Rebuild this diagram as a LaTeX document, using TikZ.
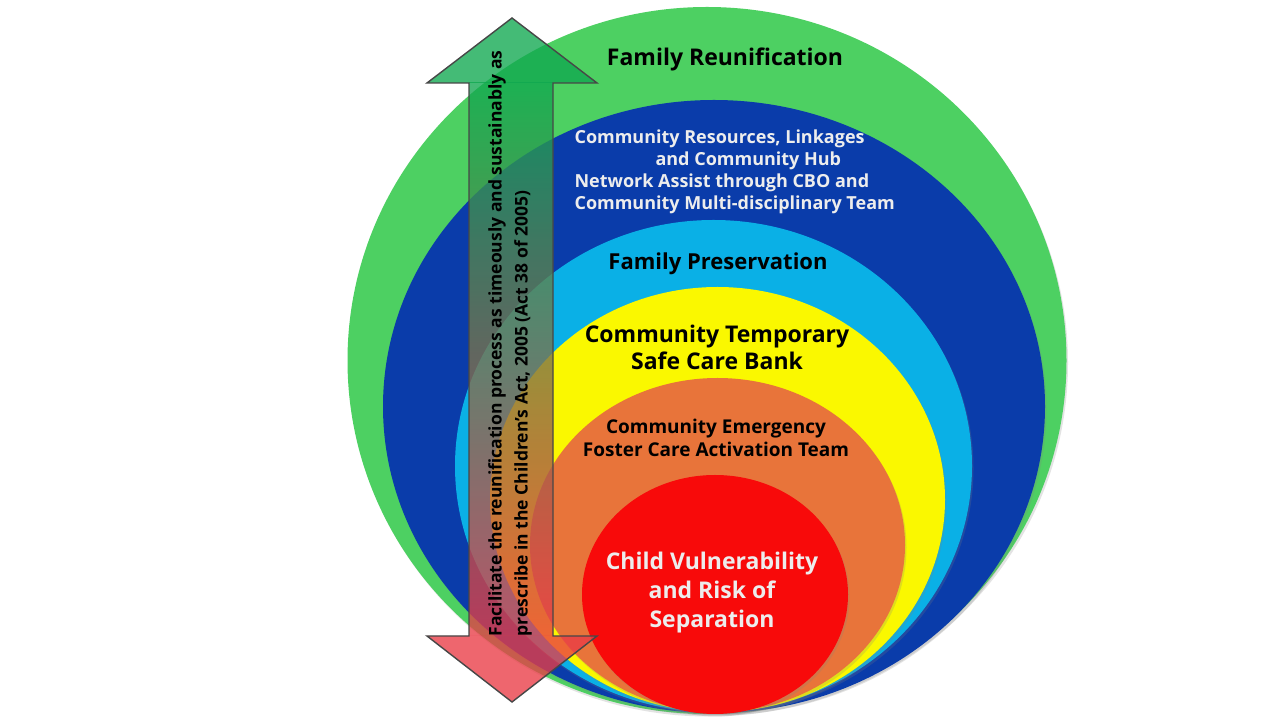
\documentclass[tikz,border=0pt]{standalone}
\usepackage{fontspec}
\setmainfont{Open Sans}
\usetikzlibrary{shapes.geometric}
\usetikzlibrary{shadows}
\definecolor{ringg}{RGB}{77,208,98}
\definecolor{ringb}{RGB}{10,60,170}
\definecolor{ringc}{RGB}{10,176,230}
\definecolor{ringy}{RGB}{250,248,0}
\definecolor{ringo}{RGB}{232,116,58}
\definecolor{ringr}{RGB}{248,10,10}
\definecolor{arrg}{RGB}{16,168,80}
\definecolor{arrr}{RGB}{234,60,70}
\tikzset{
    myring/.style = {ellipse, inner sep=0pt, draw=none, drop shadow={shadow xshift=1.5pt, shadow yshift=-2.5pt, opacity=0.22}},
    mytext/.style = {align=center, text=black},
    mytextw/.style = {align=center, text=white!93!black},
    myarrow/.style = {fill opacity=0.78, draw=none},
    myarrowline/.style = {draw=black!72, line width=1.4pt},
    big/.style = {font=\fontsize{23}{27}\selectfont\bfseries},
    small/.style = {font=\fontsize{18}{22}\selectfont\bfseries}
}
\begin{document}
\begin{tikzpicture}[x=1pt, y=1pt]
  \useasboundingbox[fill=white] (0,0) rectangle (1280,720);
  % rings, outer to inner
  \node[myring, fill=ringg, minimum width=719pt, minimum height=707pt] (reunif) at (707,359.5) {};
  \node[myring, fill=ringb, minimum width=662pt, minimum height=613pt] (resources) at (714,313.5) {};
  \node[myring, fill=ringc, minimum width=517pt, minimum height=492pt] (preserv) at (713.5,254) {};
  \node[myring, fill=ringy, minimum width=455pt, minimum height=425pt] (safecare) at (717.5,220.5) {};
  \node[myring, fill=ringo, minimum width=375pt, minimum height=334pt] (emergency) at (717.5,175) {};
  \node[myring, fill=ringr, minimum width=266pt, minimum height=239pt] (child) at (715,125.5) {};
  % ring labels
  \node[mytext, big] (treunif) at (725,661) {Family Reunification};
  \node[mytextw, small, align=left, anchor=west] (tresources) at (571,548)
    {Community Resources, Linkages\\\hspace*{81pt}and Community Hub\\Network Assist through CBO and\\Community Multi-disciplinary Team};
  \node[mytext, font=\fontsize{22}{26}\selectfont\bfseries] (tpreserv) at (718,456) {Family Preservation};
  \node[mytext, big] (tsafecare) at (717,373) {Community Temporary\\Safe Care Bank};
  \node[mytext, font=\fontsize{19}{23}\selectfont\bfseries] (temergency) at (716,282) {Community Emergency\\Foster Care Activation Team};
  \node[mytextw, font=\fontsize{23}{29}\selectfont\bfseries] (tchild) at (712,127) {Child Vulnerability\\and Risk of\\Separation};
  % double arrow
  \fill[myarrow, arrg] (512,702) -- (597,637) -- (427,637) -- cycle;
  \shade[myarrow, top color=arrg, bottom color=arrr] (469,84) rectangle (553,637);
  \fill[myarrow, arrr] (427,84) -- (597,84) -- (512,18) -- cycle;
  \draw[myarrowline] (512,702) -- (597,637) -- (553,637) -- (553,84) -- (597,84) -- (512,18)
    -- (427,84) -- (469,84) -- (469,637) -- (427,637) -- cycle;
  \node[mytext, align=left, anchor=west, rotate=90, font=\fontsize{17.5}{26}\selectfont\bfseries] (tarrow) at (510,80)
    {Facilitate the reunification process as timeously and sustainably as\\prescribe in the Children's Act, 2005 (Act 38 of 2005)};
\end{tikzpicture}
\end{document}
